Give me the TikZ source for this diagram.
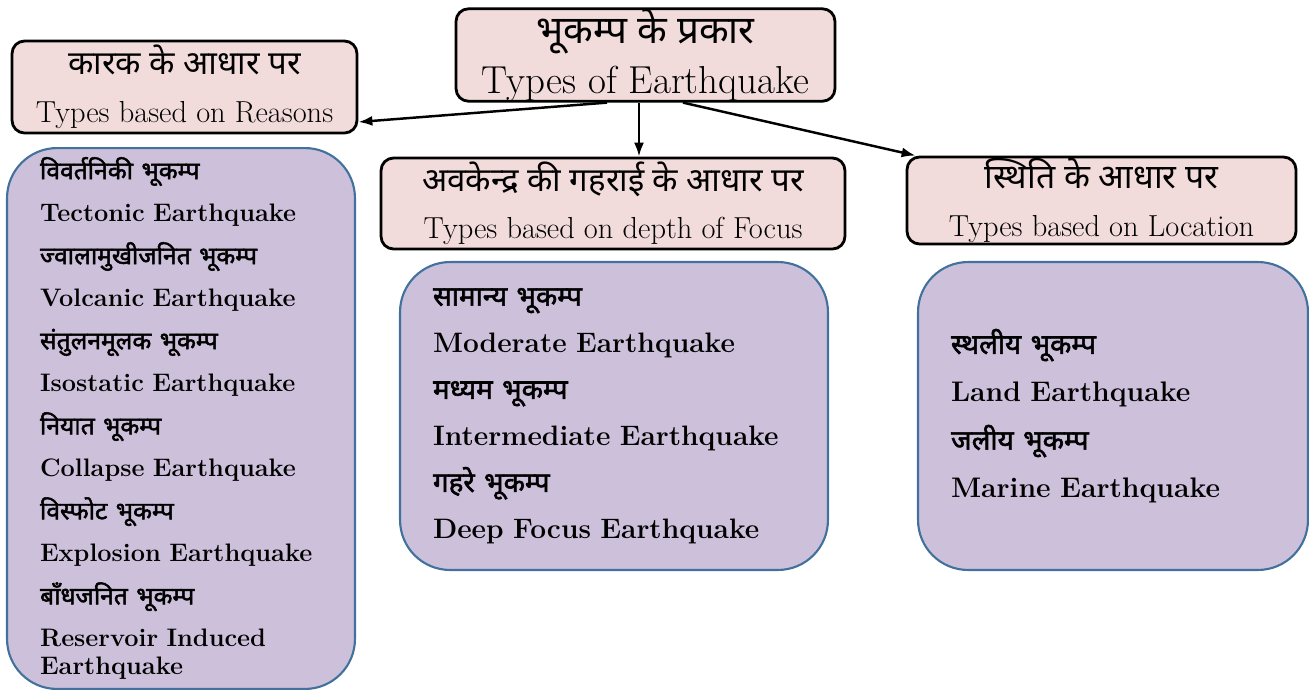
\documentclass[tikz,border=0pt]{standalone}
\usepackage{fontspec}
\newfontfamily\hindifont[Script=Devanagari]{Noto Sans}
\newfontfamily\hindiboldfont[Script=Devanagari,FakeBold=2]{Noto Sans}
\usetikzlibrary{arrows.meta}
\definecolor{headpink}{HTML}{F2DCDB}
\definecolor{listlilac}{HTML}{CCC0DA}
\definecolor{listblue}{HTML}{41719C}
\newcommand{\hin}[1][18.8]{\hindifont\fontsize{#1}{#1}\selectfont\ignorespaces}
\newcommand{\hinb}[1][15.8]{\hindiboldfont\fontsize{#1}{#1}\selectfont\ignorespaces}
\begin{document}
\begin{tikzpicture}
[
    x=0.02cm, y=-0.02cm,
    head/.style={draw, line width=1.6pt, fill=headpink, rounded corners=0.25cm,
        align=center, inner sep=0pt, font=\fontsize{17.3}{27}\selectfont},
    list/.style={draw=listblue, line width=1.2pt, fill=listlilac, rounded corners=1cm,
        align=left, inner xsep=0.66cm, inner ysep=0pt},
    link/.style={-{Latex[length=0.28cm,width=0.2cm]}, line width=1.4pt},
]
\useasboundingbox (0,0) rectangle (1309,690);
\node[head, minimum width=7.58cm, minimum height=1.8cm, font=\fontsize{22.2}{28.4}\selectfont]
    (root) at (645.5,55) {{\hin[22] भूकम्प के प्रकार}\\Types of Earthquake};
\node[head, minimum width=6.9cm, minimum height=1.84cm]
    (lhead) at (184.5,87) {{\hin कारक के आधार पर}\\Types based on Reasons};
\node[head, minimum width=9.28cm, minimum height=1.82cm]
    (mhead) at (613,203.5) {{\hin अवकेन्द्र की गहराई के आधार पर}\\Types based on depth of Focus};
\node[head, minimum width=7.78cm, minimum height=1.74cm]
    (rhead) at (1101.5,200.5) {{\hin[19.2] स्थिति के आधार पर}\\Types based on Location};

\node[list, text width=5.64cm, minimum height=10.82cm, font=\bfseries\fontsize{14.4}{24.2}\selectfont]
    (llist) at (181,418.5) {{\hinb[14] विवर्तनिकी भूकम्प}\\Tectonic Earthquake\\
    {\hinb[14] ज्वालामुखीजनित भूकम्प}\\Volcanic Earthquake\\
    {\hinb[14] संतुलनमूलक भूकम्प}\\Isostatic Earthquake\\
    {\hinb[14] नियात भूकम्प}\\Collapse Earthquake\\
    {\hinb[14] विस्फोट भूकम्प}\\Explosion Earthquake\\
    {\hinb[14] बाँधजनित भूकम्प}\\Reservoir Induced\\[-8.2pt]Earthquake};
\node[list, text width=7.24cm, minimum height=6.16cm, font=\bfseries\fontsize{16}{26.5}\selectfont]
    (mlist) at (614,416) {{\hinb सामान्य भूकम्प}\\Moderate Earthquake\\
    {\hinb मध्यम भूकम्प}\\Intermediate Earthquake\\
    {\hinb गहरे भूकम्प}\\Deep Focus Earthquake};
\node[list, text width=6.48cm, minimum height=6.16cm, font=\bfseries\fontsize{16.1}{27.3}\selectfont]
    (rlist) at (1113,416) {{\hinb स्थलीय भूकम्प}\\Land Earthquake\\
    {\hinb जलीय भूकम्प}\\Marine Earthquake};

\draw[link] ([xshift=-0.77cm]root.south) -- ([yshift=-0.7cm]lhead.east);
\draw[link] ([xshift=-0.13cm]root.south) -- ([xshift=-0.13cm]root.south |- mhead.north);
\draw[link] ([xshift=0.75cm]root.south) -- ([xshift=0.2cm]rhead.north west);
\end{tikzpicture}
\end{document}
